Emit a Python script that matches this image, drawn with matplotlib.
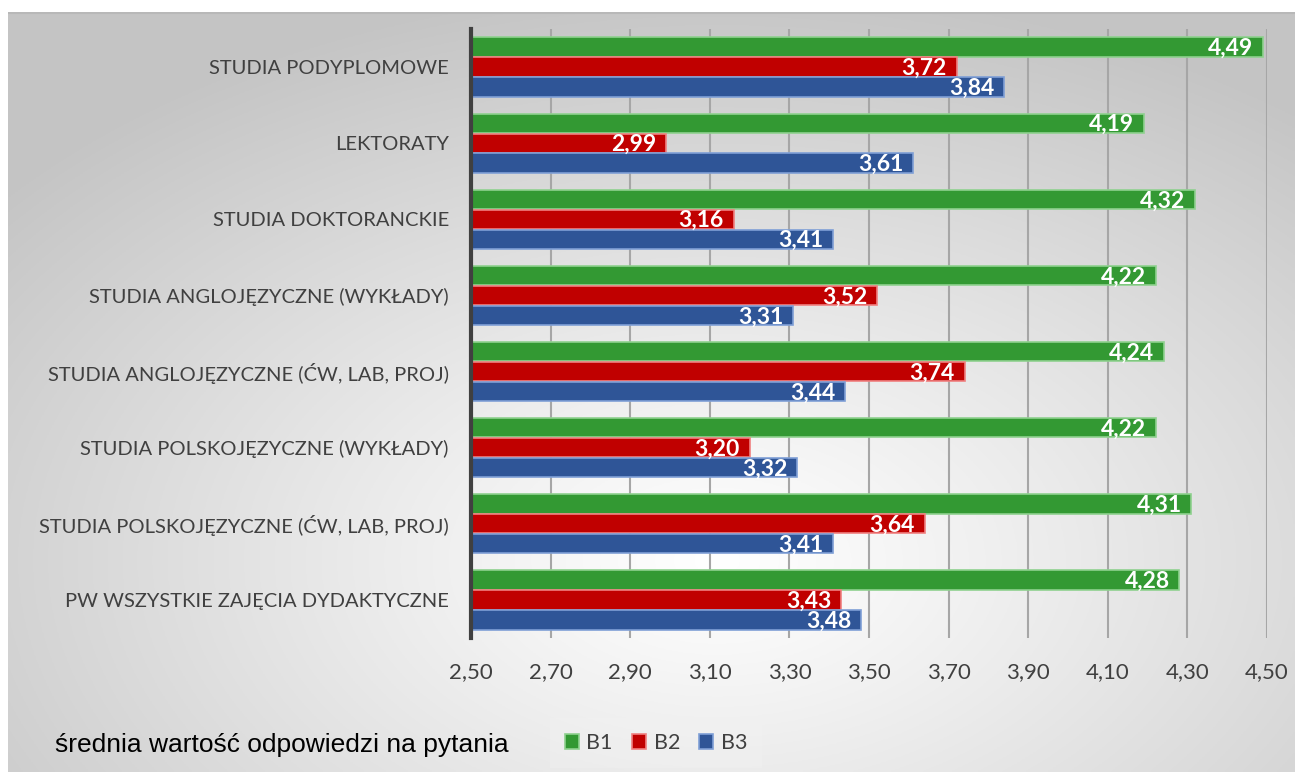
import numpy as np
import matplotlib.pyplot as plt

# dane
kategorie = ['STUDIA PODYPLOMOWE', 'LEKTORATY', 'STUDIA DOKTORANCKIE',
             'STUDIA ANGLOJĘZYCZNE (WYKŁADY)', 'STUDIA ANGLOJĘZYCZNE (ĆW, LAB, PROJ)',
             'STUDIA POLSKOJĘZYCZNE (WYKŁADY)', 'STUDIA POLSKOJĘZYCZNE (ĆW, LAB, PROJ)',
             'PW WSZYSTKIE ZAJĘCIA DYDAKTYCZNE']
b1 = [4.49, 4.19, 4.32, 4.22, 4.24, 4.22, 4.31, 4.28]
b2 = [3.72, 2.99, 3.16, 3.52, 3.74, 3.20, 3.64, 3.43]
b3 = [3.84, 3.61, 3.41, 3.31, 3.44, 3.32, 3.41, 3.48]
serie = ['B1', 'B2', 'B3']
kolory = ['#339933', '#C00000', '#2F5597']
krawedzie = ['#8fd18f', '#f08080', '#7f9fd6']
ticki = [2.5, 2.7, 2.9, 3.1, 3.3, 3.5, 3.7, 3.9, 4.1, 4.3, 4.5]

W, H = 1295, 772
fig = plt.figure(figsize=(W / 100, H / 100), dpi=100)
fig.patch.set_facecolor('white')

# tło z gradientem
bg = fig.add_axes([8 / W, 0, 1 - 8 / W, (H - 12) / H])
bg.set_axis_off()
yy, xx = np.mgrid[0:300, 0:500]
cx, cy = 0.55 * 500, 0.72 * 300
r = np.sqrt(((xx - cx) / 500) ** 2 + ((yy - cy) / 300) ** 2 * 0.9)
r = np.clip(r / 0.72, 0, 1)
val = 1.0 - 0.23 * r ** 1.1
bg.imshow(np.dstack([val, val, val]), aspect='auto', extent=[0, 1, 0, 1], origin='upper')
bg.set_xlim(0, 1)
bg.set_ylim(0, 1)
bg.plot([0, 1], [0.999, 0.999], color='#b8b8b8', lw=1.5)

ax = fig.add_axes([471 / W, 1 - 638 / H, 796 / W, 609 / H])
ax.patch.set_alpha(0)

n = len(kategorie)
y = np.arange(n)[::-1]
h = 0.262
dane = [b1, b2, b3]
for i in range(3):
    pos = y + (1 - i) * h
    ax.barh(pos, np.array(dane[i]) - 2.5, left=2.5, height=h * 0.97,
            color=kolory[i], edgecolor=krawedzie[i], linewidth=1.2,
            label=serie[i], zorder=3)
    for p, v in zip(pos, dane[i]):
        ax.annotate(f'{v:.2f}'.replace('.', ','), (v, p), xytext=(-7, -1),
                    textcoords='offset points', ha='right', va='center',
                    color='white', fontsize=16.5, fontweight='bold',
                    family='Lato', zorder=4)

ax.set_xlim(2.5, 4.5)
ax.set_ylim(-0.5, n - 0.5)
ax.set_xticks(ticki)
ax.set_xticklabels([f'{t:.2f}'.replace('.', ',') for t in ticki],
                   fontsize=16, color='#404040', family='Lato')
ax.set_yticks(y)
ax.set_yticklabels(kategorie, fontsize=14.5, color='#404040', family='Lato')
ax.tick_params(axis='x', length=0, pad=17)
ax.tick_params(axis='y', length=0, pad=16)
ax.grid(axis='x', color='#a6a6a6', lw=1.5, zorder=0)
for s in ['top', 'right', 'bottom']:
    ax.spines[s].set_visible(False)
ax.spines['left'].set_color('#404040')
ax.spines['left'].set_linewidth(3)
ax.spines['left'].set_zorder(5)

fig.text(55 / W, 1 - 745 / H, 'średnia wartość odpowiedzi na pytania',
         fontsize=19, family=['Liberation Sans Narrow', 'Liberation Sans'],
         color='black', va='center', ha='left')

leg = fig.legend(loc='center', bbox_to_anchor=(656 / W, 1 - 743 / H), ncol=3,
                 frameon=True, handlelength=0.65, handleheight=0.65,
                 handletextpad=0.35, columnspacing=0.9,
                 prop={'family': 'Lato', 'size': 15.5})
leg.get_frame().set_facecolor('#f2f2f2')
leg.get_frame().set_alpha(0.35)
leg.get_frame().set_edgecolor('none')
leg.get_frame().set_boxstyle('square', pad=0.3)
for t in leg.get_texts():
    t.set_color('#404040')

fig.savefig('out.png', dpi=100)
